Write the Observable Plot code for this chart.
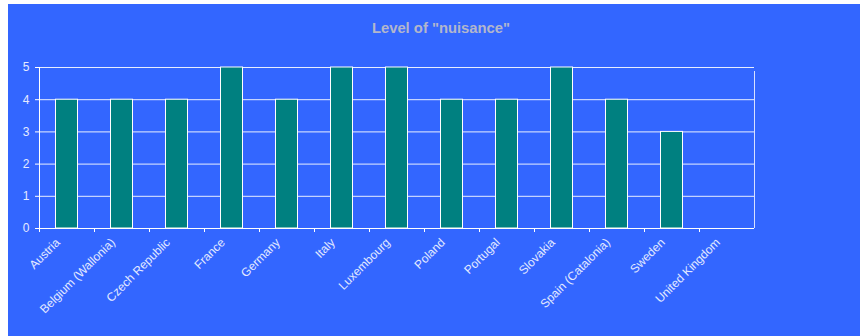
<!DOCTYPE html>
<html>
<head>
<meta charset="utf-8">
<script src="https://cdn.jsdelivr.net/npm/d3@7"></script>
<script src="https://cdn.jsdelivr.net/npm/@observablehq/plot@0.6"></script>
<style>
  html, body { margin: 0; padding: 0; background: #ffffff; }
  #wrap {
    position: absolute; left: 8px; top: 4px;
    width: 852px; height: 332px;
    background: #3366ff; overflow: hidden;
  }
  #title {
    font: bold 14.8px "Liberation Sans", Arial, sans-serif;
    height: 44px; line-height: 48px; text-align: center;
    color: #b2b6cc; padding-left: 14px;
  }
  #chart svg { display: block; }
</style>
</head>
<body>
<div id="wrap">
  <div id="title">Level of "nuisance"</div>
  <div id="chart"></div>
</div>
<script>
// Countries on the category axis
const countries = [
  "Austria", "Belgium (Wallonia)", "Czech Republic", "France", "Germany",
  "Italy", "Luxembourg", "Poland", "Portugal", "Slovakia",
  "Spain (Catalonia)", "Sweden", "United Kingdom"
];
// Nuisance level per country (no value reported for the UK)
const levels = [4, 4, 4, 5, 4, 5, 5, 4, 4, 5, 4, 3, null];
// Value-axis ticks
const yTicks = [0, 1, 2, 3, 4, 5];

const data = countries.map((c, i) => ({country: c, level: levels[i]}));
const bandHalf = (852 - 31 - 106) / countries.length / 2;

const chart = Plot.plot({
  width: 852,
  height: 288,
  marginTop: 19,
  marginBottom: 108,
  marginLeft: 31,
  marginRight: 106,
  style: {background: "transparent", fontFamily: "'Liberation Sans', Arial, sans-serif", fontSize: "12px", color: "#e4eaff"},
  x: {domain: countries, padding: 0, label: null},
  y: {domain: [0, 5], label: null},
  marks: [
    // horizontal gridlines
    Plot.ruleY(yTicks, {stroke: "#e8eeff", strokeWidth: 1}),
    // right plot border
    Plot.ruleX([countries[countries.length - 1]], {y1: 0, y2: 5, dx: bandHalf, stroke: "#d8e0ff", insetBottom: -4}),
    Plot.barY(data.filter(d => d.level != null), {
      x: "country", y: "level",
      fill: "#008080", stroke: "#ffffff", strokeWidth: 1,
      insetLeft: 16.5, insetRight: 16.5
    }),
    // axis lines
    Plot.ruleX([countries[0]], {y1: 0, y2: 5, dx: -bandHalf, stroke: "#ffffff"}),
    Plot.ruleY([0], {stroke: "#ffffff"}),
    Plot.axisY({ticks: yTicks, tickFormat: "d", tickSize: 4, tickPadding: 6, stroke: "#ffffff", fill: "#e4eaff", fontSize: 12}),
    // category boundary ticks
    Plot.axisX({tickSize: 4, text: null, dx: -bandHalf, stroke: "#ffffff"}),
    Plot.axisX({tickSize: 0, tickRotate: -45, tickPadding: 12, dx: -9, fill: "#e4eaff", fontSize: 12})
  ]
});
document.getElementById("chart").appendChild(chart);
</script>
</body>
</html>
